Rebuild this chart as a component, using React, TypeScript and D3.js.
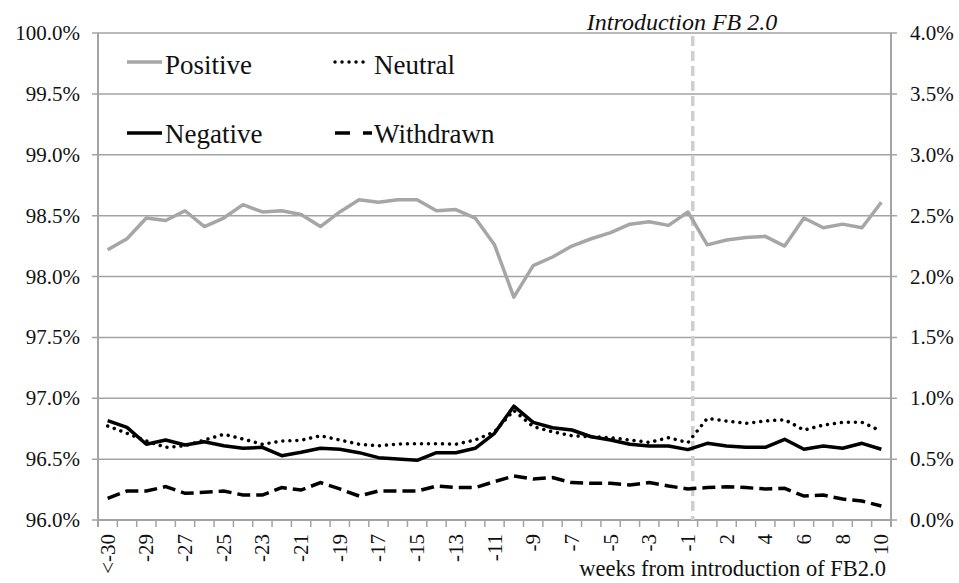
import React from "react";
import * as d3 from "d3";

const categories = [
  "<-30", "-30", "-29", "-28", "-27", "-26", "-25", "-24", "-23", "-22", "-21",
  "-20", "-19", "-18", "-17", "-16", "-15", "-14", "-13", "-12", "-11", "-10",
  "-9", "-8", "-7", "-6", "-5", "-4", "-3", "-2", "-1",
  "1", "2", "3", "4", "5", "6", "7", "8", "9", "10",
];

// left axis (%)
const positive = [
  98.22, 98.31, 98.48, 98.46, 98.54, 98.41, 98.48, 98.59, 98.53, 98.54,
  98.51, 98.41, 98.53, 98.63, 98.61, 98.63, 98.63, 98.54, 98.55, 98.48,
  98.26, 97.83, 98.09, 98.16, 98.25, 98.31, 98.36, 98.43, 98.45, 98.42,
  98.53, 98.26, 98.3, 98.32, 98.33, 98.25, 98.48, 98.4, 98.43, 98.4, 98.61,
];

// right axis (%)
const negative = [
  0.816, 0.761, 0.622, 0.657, 0.616, 0.643, 0.61, 0.589, 0.597, 0.528,
  0.556, 0.589, 0.581, 0.553, 0.512, 0.501, 0.49, 0.553, 0.553, 0.589,
  0.712, 0.935, 0.802, 0.758, 0.739, 0.684, 0.657, 0.622, 0.608, 0.608,
  0.578, 0.63, 0.608, 0.597, 0.597, 0.663, 0.581, 0.608, 0.589, 0.63, 0.581,
];
const neutral = [
  0.772, 0.712, 0.649, 0.597, 0.61, 0.657, 0.704, 0.665, 0.622, 0.649,
  0.655, 0.692, 0.657, 0.622, 0.61, 0.624, 0.627, 0.627, 0.622, 0.657,
  0.725, 0.9, 0.767, 0.725, 0.692, 0.684, 0.676, 0.657, 0.638, 0.676,
  0.635, 0.835, 0.813, 0.794, 0.813, 0.824, 0.739, 0.78, 0.802, 0.802, 0.73,
];
const withdrawn = [
  0.178, 0.238, 0.238, 0.274, 0.219, 0.227, 0.238, 0.205, 0.205, 0.266,
  0.246, 0.307, 0.255, 0.197, 0.238, 0.238, 0.238, 0.279, 0.266, 0.266,
  0.315, 0.361, 0.337, 0.348, 0.307, 0.301, 0.301, 0.288, 0.307, 0.279,
  0.255, 0.266, 0.274, 0.266, 0.255, 0.26, 0.197, 0.205, 0.172, 0.156, 0.115,
];

const leftTicks = [96, 96.5, 97, 97.5, 98, 98.5, 99, 99.5, 100];
const rightTicks = [0, 0.5, 1, 1.5, 2, 2.5, 3, 3.5, 4];

const W = 959;
const H = 583;
const left = 98;
const right = 891;
const top = 33;
const bottom = 520;
const serif = { fontFamily: '"Liberation Serif"' };
const grid = "#a3a3a3";

export default function App() {
  const x = d3.scaleBand<string>().domain(categories).range([left, right]).padding(0);
  const yL = d3.scaleLinear().domain([96, 100]).range([bottom, top]);
  const yR = d3.scaleLinear().domain([0, 4]).range([bottom, top]);
  const cx = (i: number) => (x(categories[i]) as number) + x.bandwidth() / 2;

  const lineL = d3.line<number>().x((_, i) => cx(i)).y(d => yL(d));
  const lineR = d3.line<number>().x((_, i) => cx(i)).y(d => yR(d));

  const introX = (x("-1") as number) + x.bandwidth() * 0.75;

  return (
    <svg width={W} height={H} style={{ position: "absolute", left: 0, top: 0, background: "#fff" }}>
      {/* gridlines + left ticks */}
      {leftTicks.map(t => (
        <g key={"l" + t}>
          <line x1={left - 6} x2={right + 6} y1={yL(t)} y2={yL(t)} stroke={grid} strokeWidth={1.5} />
          <text x={80} y={yL(t)} textAnchor="end" dominantBaseline="central" fontSize={21} fill="#111" style={serif}>
            {t.toFixed(1) + "%"}
          </text>
        </g>
      ))}
      {rightTicks.map(t => (
        <text key={"r" + t} x={910} y={yR(t)} textAnchor="start" dominantBaseline="central" fontSize={21} fill="#111" style={serif}>
          {t.toFixed(1) + "%"}
        </text>
      ))}
      {/* axes */}
      <line x1={left} x2={left} y1={top} y2={bottom + 7} stroke={grid} strokeWidth={2} />
      <line x1={right} x2={right} y1={top} y2={bottom + 7} stroke={grid} strokeWidth={2} />
      <line x1={left} x2={right} y1={bottom} y2={bottom} stroke={grid} strokeWidth={2} />
      {categories.map(c => (
        <line key={"t" + c} x1={x(c) as number} x2={x(c) as number} y1={bottom} y2={bottom + 7} stroke={grid} strokeWidth={1.5} />
      ))}
      {categories.map((c, i) =>
        i % 2 === 0 ? (
          <text
            key={"x" + c}
            transform={`translate(${cx(i)},534) rotate(-90)`}
            textAnchor="end"
            dominantBaseline="central"
            fontSize={21}
            fill="#111"
            style={serif}
          >
            {c}
          </text>
        ) : null
      )}
      <text x={886} y={576} textAnchor="end" fontSize={22.5} fill="#111" style={serif}>
        weeks from introduction of FB2.0
      </text>

      {/* introduction marker */}
      <line x1={introX} x2={introX} y1={36} y2={bottom} stroke="#cfcfcf" strokeWidth={3.5} strokeDasharray="10 5" />
      <text x={682} y={30} textAnchor="middle" fontSize={24} fontStyle="italic" fill="#111" style={serif}>
        Introduction FB 2.0
      </text>

      {/* series */}
      <path d={lineL(positive) as string} fill="none" stroke="#a6a6a6" strokeWidth={3.5} strokeLinejoin="round" />
      <path d={lineR(withdrawn) as string} fill="none" stroke="#000" strokeWidth={3.5} strokeDasharray="13 6" />
      <path d={lineR(neutral) as string} fill="none" stroke="#000" strokeWidth={3.5} strokeDasharray="0.01 7" strokeLinecap="round" />
      <path d={lineR(negative) as string} fill="none" stroke="#000" strokeWidth={3.5} strokeLinejoin="round" />

      {/* legend */}
      <line x1={127} x2={162} y1={62} y2={62} stroke="#a6a6a6" strokeWidth={3.5} />
      <text x={165} y={74} fontSize={27} fill="#111" style={serif}>Positive</text>
      <line x1={335} x2={369} y1={62} y2={62} stroke="#000" strokeWidth={3.5} strokeDasharray="0.01 7" strokeLinecap="round" />
      <text x={374} y={74} fontSize={27} fill="#111" style={serif}>Neutral</text>
      <line x1={127} x2={162} y1={133} y2={133} stroke="#000" strokeWidth={3.5} />
      <text x={165} y={143} fontSize={27} fill="#111" style={serif}>Negative</text>
      <line x1={335} x2={372} y1={133} y2={133} stroke="#000" strokeWidth={3.5} strokeDasharray="15 13" />
      <text x={374} y={143} fontSize={27} fill="#111" style={serif}>Withdrawn</text>
    </svg>
  );
}
